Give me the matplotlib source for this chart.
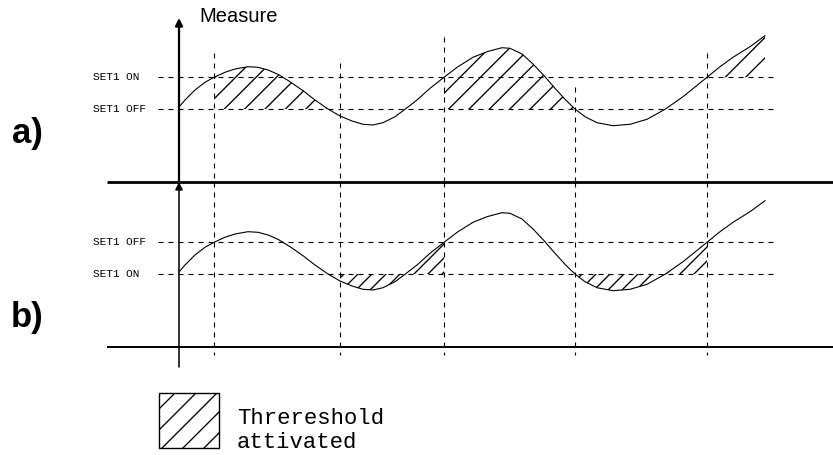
import matplotlib

matplotlib.use("Agg")
import matplotlib.pyplot as plt
import numpy as np
from matplotlib.collections import LineCollection
from matplotlib.patches import Rectangle

t = [0, 6, 16, 26, 35, 46, 56, 69, 79, 89, 99, 111, 124, 136, 149, 161, 173, 184,
     194, 204, 216, 226, 238, 251, 265, 279, 294, 308, 323, 331, 343, 354, 366, 376,
     386, 396, 406, 418, 434, 451, 468, 486, 504, 516, 528, 541, 554, 571, 586]
measure = [75, 82, 92, 99.7, 104.7, 109.7, 113, 115.3, 114.7, 112, 107.7, 100.3, 91.3,
           82, 73, 66, 61, 57.7, 57, 59.3, 65.3, 72.7, 82, 93.7, 104.7, 115.3, 124.7,
           130.3, 134.3, 133.7, 128, 118, 105.3, 93.7, 82.7, 73, 65.3, 59.3, 56.3,
           57.7, 62.7, 72.7, 85.3, 95, 104.7, 115.3, 124.7, 135.3, 146.3]

# thresholds
a_set_on, a_set_off = 104.7, 73
b_set_off, b_set_on = 105, 73

# switching instants and where their guide lines start (panel a)
switch_t = [35, 161, 265, 396, 528]
switch_top = [129, 119, 145, 95, 129]

# active intervals: (start, end, reference level)
a_active = [(35, 149, a_set_off), (265, 396, a_set_off), (528, 586, a_set_on)]
b_active = [(161, 265, b_set_on), (396, 528, b_set_on)]

W, H = 833, 455
fig = plt.figure(figsize=(W / 100, H / 100), dpi=100)
ax_a = fig.add_axes([0, 273 / H, 1, 182 / H])
ax_b = fig.add_axes([0, 0, 1, 273 / H])
ax_a.set_xlim(-179, 654)
ax_a.set_ylim(0, 182)
ax_b.set_xlim(-179, 654)
ax_b.set_ylim(-108, 165)
for ax in (ax_a, ax_b):
    ax.axis("off")

tt = np.array(t, dtype=float)
mm = np.array(measure, dtype=float)
dash = (0, (4.5, 4.5))


def hatch(ax, clip, spacing, offset, lw=0.95, patch=False):
    cs = np.arange(offset - 40 * spacing, offset + 60 * spacing, spacing)
    segs = [[(-300, -300 - c), (900, 900 - c)] for c in cs]
    lc = LineCollection(segs, colors="k", linewidths=lw)
    ax.add_collection(lc)
    if patch:
        lc.set_clip_path(clip)
    else:
        lc.set_clip_path(clip, ax.transData)


def draw_panel(ax, active, levels, labels, spacing, offset, axis_lw, vtop, vbottom):
    # time axis
    ax.plot([-72, 654], [0, 0], color="k", lw=axis_lw, solid_capstyle="butt", clip_on=False)
    # measure axis with arrow
    ax.annotate("", xy=(0, vtop), xytext=(0, vbottom), annotation_clip=False,
                arrowprops=dict(arrowstyle="-|>", color="k", lw=axis_lw * 0.8,
                                mutation_scale=11, shrinkA=0, shrinkB=0))
    for lev, lab in zip(levels, labels):
        ax.plot([-21, 594], [lev, lev], color="k", lw=0.8, ls=dash)
        ax.text(-86, lev, lab, fontsize=8, family="Liberation Mono",
                ha="left", va="center")
    ax.plot(tt, mm, color="k", lw=0.8)
    for t0, t1, lev in active:
        sel = (tt >= t0) & (tt <= t1)
        poly = ax.fill_between(tt[sel], mm[sel], lev, facecolor="none", edgecolor="none")
        hatch(ax, poly.get_paths()[0], spacing, offset)


draw_panel(ax_a, a_active, [a_set_on, a_set_off], ["SET1 ON", "SET1 OFF"],
           20.4, -27.7, 2.0, 164, 0)
draw_panel(ax_b, b_active, [b_set_off, b_set_on], ["SET1 OFF", "SET1 ON"],
           14, -20, 1.4, 165, -20)

# switching guides running through both panels
for st, top in zip(switch_t, switch_top):
    ax_a.plot([st, st], [top, 0], color="k", lw=0.8, ls=dash)
    ax_b.plot([st, st], [165, -8], color="k", lw=0.8, ls=dash)

ax_a.text(20, 165, "Measure", fontsize=14.5, family="Liberation Sans", ha="left", va="center")
fig.text(27 / W, 1 - 133 / H, "a)", fontsize=25, fontweight="bold",
         family="Liberation Sans", ha="center", va="center")
fig.text(27 / W, 1 - 318 / H, "b)", fontsize=25, fontweight="bold",
         family="Liberation Sans", ha="center", va="center")

# legend key
box = Rectangle((-20, -101), 60, 55, facecolor="none", edgecolor="k", lw=1.0)
ax_b.add_patch(box)
hatch(ax_b, box, 21, 0, patch=True)
ax_b.text(58, -71, "Threreshold", fontsize=16, family="Liberation Mono",
          ha="left", va="center")
ax_b.text(58, -95, "attivated", fontsize=16, family="Liberation Mono",
          ha="left", va="center")

fig.savefig("out.png", dpi=100)
